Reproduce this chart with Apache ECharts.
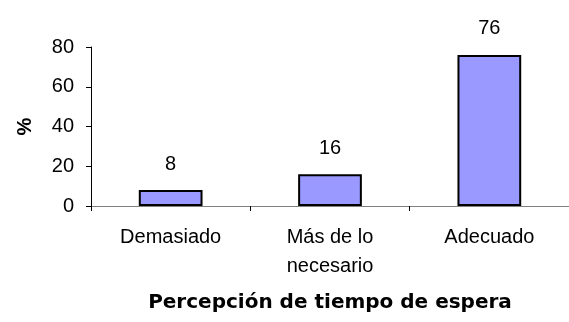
<!DOCTYPE html>
<html>
<head>
<meta charset="utf-8">
<script src="https://cdn.jsdelivr.net/npm/echarts@6/dist/echarts.min.js"></script>
<style>
  html, body { margin: 0; padding: 0; background: #fff; }
  #chart { width: 569px; height: 322px; }
</style>
</head>
<body>
<div id="chart"></div>
<script>
// Perception of waiting time, percentages per answer
const categories = ['Demasiado', 'Más de lo\nnecesario', 'Adecuado'];
const percentages = [8, 16, 76];
const yTicks = { min: 0, max: 80, interval: 20 };

const FONT = '"Liberation Sans", Arial, sans-serif';
const TITLE_FONT = '"DejaVu Sans", "Liberation Sans", sans-serif';

const chart = echarts.init(document.getElementById('chart'), null, { renderer: 'canvas' });

chart.setOption({
  animation: false,
  backgroundColor: '#ffffff',
  grid: { left: 91, right: -10, top: 47, bottom: 116, containLabel: false },
  xAxis: {
    type: 'category',
    data: categories,
    name: 'Percepción de tiempo de espera',
    nameLocation: 'middle',
    nameGap: 87,
    nameTextStyle: { fontFamily: TITLE_FONT, fontSize: 20, fontWeight: 'bold', color: '#000' },
    axisLine: { lineStyle: { color: '#808080', width: 1 } },
    axisTick: { show: true, length: 5, lineStyle: { color: '#000', width: 1 } },
    axisLabel: {
      fontFamily: FONT, fontSize: 20, color: '#000',
      margin: 17, lineHeight: 29, interval: 0
    }
  },
  yAxis: {
    type: 'value',
    min: yTicks.min,
    max: yTicks.max,
    interval: yTicks.interval,
    name: '%',
    nameLocation: 'middle',
    nameRotate: 90,
    nameGap: 56,
    nameTextStyle: { fontFamily: FONT, fontSize: 20, fontWeight: 'bold', color: '#000' },
    axisLine: { show: true, lineStyle: { color: '#000', width: 1 } },
    axisTick: { show: true, length: 5, lineStyle: { color: '#000', width: 1 } },
    axisLabel: { fontFamily: FONT, fontSize: 20, color: '#000', margin: 17 },
    splitLine: { show: false }
  },
  series: [{
    type: 'bar',
    data: percentages,
    barWidth: '40%',
    itemStyle: { color: '#9999FF', borderColor: '#000', borderWidth: 2 },
    label: {
      show: true,
      position: 'top',
      distance: 16,
      fontFamily: FONT,
      fontSize: 20,
      color: '#000'
    }
  }]
});
</script>
</body>
</html>
